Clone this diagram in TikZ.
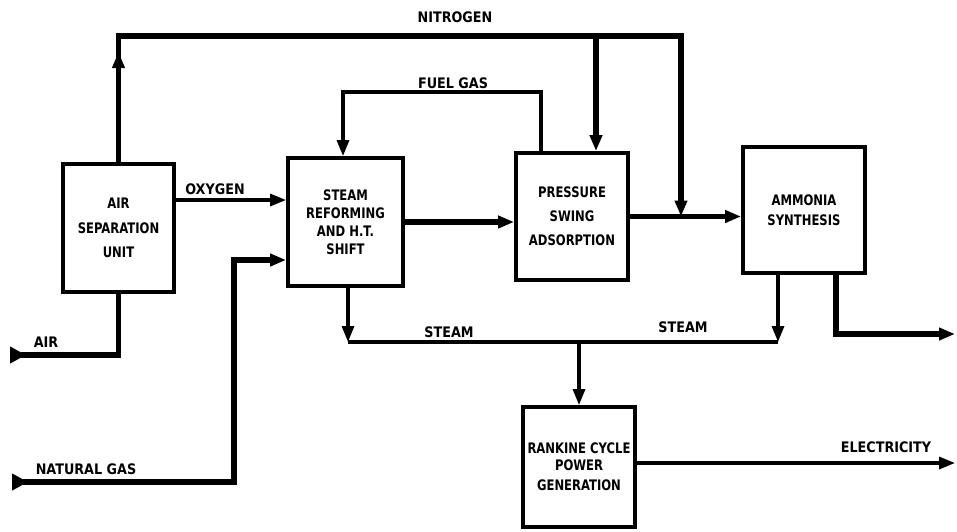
\documentclass[tikz,border=0pt]{standalone}
\usepackage{fontspec}
\newfontfamily\boxfont{DejaVu Sans}[FakeStretch=0.8]
\newfontfamily\lblfont{DejaVu Sans}[FakeStretch=0.88]
\usetikzlibrary{arrows.meta}
\begin{document}
\begin{tikzpicture}[x=1pt,y=-1pt,
  box/.style={draw, line width=3.8pt, inner sep=0pt, align=center,
    font=\boxfont\bfseries\fontsize{14.5}{17.5}\selectfont},
  lbl/.style={font=\lblfont\bfseries\fontsize{14.5}{17.5}\selectfont, inner sep=0pt},
  thk/.style={line width=5.4pt, line join=miter},
  thn/.style={line width=3.2pt, line join=miter},
  arr/.style={-{Triangle[length=16pt,width=12pt]}},
  tail/.style={{Triangle[reversed,length=16pt,width=16pt]}-}
]
\useasboundingbox (0,0) rectangle (957,531);

% boxes
\node[box, minimum width=111pt, minimum height=128pt] (asu) at (118.5,228)
  {AIR\\[7pt]SEPARATION\\[7pt]UNIT};
\node[box, minimum width=115pt, minimum height=128pt] (ref) at (345.5,222)
  {STEAM\\[0.5pt]REFORMING\\[0.5pt]AND H.T.\\[0.5pt]SHIFT};
\node[box, minimum width=112pt, minimum height=127pt] (psa) at (572,216.5)
  {PRESSURE\\[6.5pt]SWING\\[6.5pt]ADSORPTION};
\node[box, minimum width=122pt, minimum height=126pt] (am) at (804,210)
  {AMMONIA\\[2pt]SYNTHESIS};
\node[box, minimum width=112pt, minimum height=120pt] (rk) at (579,467)
  {RANKINE CYCLE\\[-1pt]POWER\\[3pt]GENERATION};

% coordinates
\coordinate (nL) at (118.5,36);
\coordinate (nM) at (596,36);
\coordinate (nR) at (681,36);
\coordinate (nArr) at (118.5,52);
\coordinate (oxy) at (0,200);
\coordinate (ngA) at (12,482);
\coordinate (ngB) at (234,482);
\coordinate (ngC) at (234,260);
\coordinate (airA) at (10,355);
\coordinate (airB) at (118.5,355);
\coordinate (fgA) at (541,92);
\coordinate (fgB) at (343,92);
\coordinate (stL) at (348,342);
\coordinate (stR) at (778,342);
\coordinate (stM) at (579,342);
\coordinate (prA) at (836,334);
\coordinate (prB) at (955,334);
\coordinate (elA) at (0,463);
\coordinate (elB) at (955,463);

% nitrogen
\draw[thk,arr] (asu.north) -- (nL) -- (nR) -- (nR |- psa.east);
\draw[thk,arr] (asu.north) -- (nArr);
\draw[thk,arr] (nM) -- (nM |- psa.north);
\node[lbl] (tN) at (455,17) {NITROGEN};

% main process line
\draw[thk,arr] (ref.east) -- (ref.east -| psa.west);
\draw[thk,arr] (psa.east) -- (psa.east -| am.west);

% oxygen
\draw[thn,arr] (asu.east |- oxy) -- (ref.west |- oxy);
\node[lbl] (tO) at (215,189) {OXYGEN};

% fuel gas
\draw[thn,arr] (psa.north -| fgA) -- (fgA) -- (fgB) -- (fgB |- ref.north);
\node[lbl] (tF) at (453,83) {FUEL GAS};

% natural gas
\draw[thk,tail] (ngA) -- (ngB) -- (ngC);
\draw[thk,arr] (ngB) -- (ngC) -- (ref.west |- ngC);
\node[lbl] (tNG) at (86,469) {NATURAL GAS};

% air
\draw[thk,tail] (airA) -- (airB) -- (asu.south);
\node[lbl] (tA) at (46,342) {AIR};

% steam
\draw[thn,arr] (ref.south -| stL) -- (stL);
\draw[thn] (stL) -- (stR);
\draw[thn,arr] (am.south -| stR) -- (stR);
\draw[thn,arr] (stM) -- (rk.north);
\node[lbl] (tS1) at (449,332) {STEAM};
\node[lbl] (tS2) at (683,327) {STEAM};

% ammonia product
\draw[thk,arr] (am.south -| prA) -- (prA) -- (prB);

% electricity
\draw[thn,arr] (rk.east |- elA) -- (elB);
\node[lbl] (tE) at (886,447) {ELECTRICITY};
\end{tikzpicture}
\end{document}
